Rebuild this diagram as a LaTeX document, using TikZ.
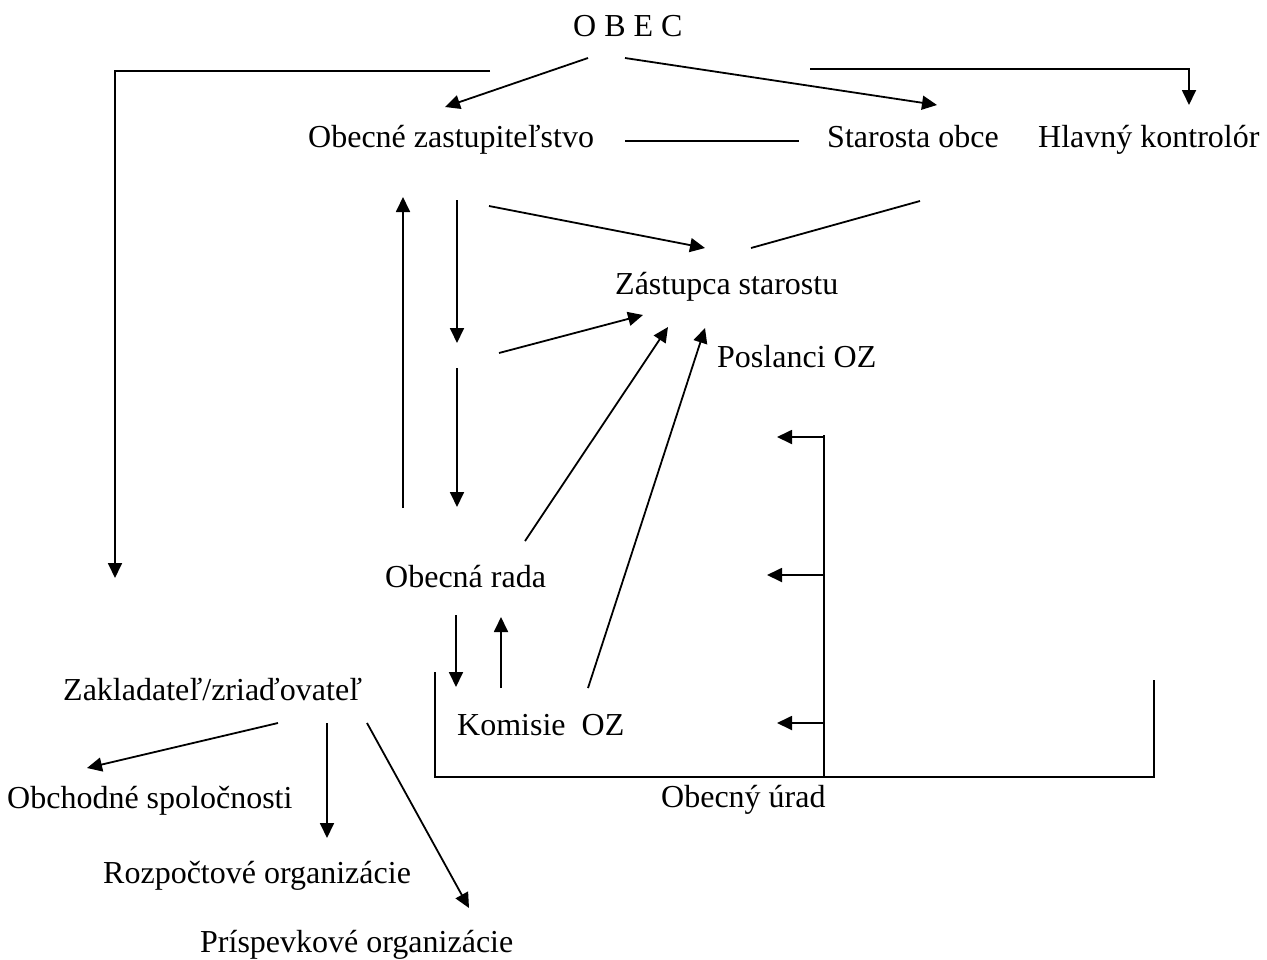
\documentclass[tikz,border=0pt]{standalone}
\usepackage{fontspec}
\setmainfont{Liberation Serif}
\usetikzlibrary{arrows.meta}
\begin{document}
\begin{tikzpicture}[x=1pt,y=-1pt,
  lbl/.style={anchor=base west, inner sep=0pt, font=\fontsize{32}{38}\selectfont},
  conn/.style={line width=1.8pt},
  arr/.style={line width=1.8pt, -{Triangle[length=15pt,width=14pt]}}]
\useasboundingbox[fill=white] (0,0) rectangle (1267,959);
% texts
\node[lbl] (obec) at (573,36) {O B E C};
\node[lbl] (oz) at (308,147) {Obecné zastupiteľstvo};
\node[lbl] (star) at (827,147) {Starosta obce};
\node[lbl] (hk) at (1038,147) {Hlavný kontrolór};
\node[lbl] (zast) at (615,294) {Zástupca starostu};
\node[lbl] (posl) at (717,367) {Poslanci OZ};
\node[lbl] (rada) at (385,587) {Obecná rada};
\node[lbl] (kom) at (457,735) {Komisie~\ OZ};
\node[lbl] (urad) at (661,807) {Obecný úrad};
\node[lbl] (zakl) at (63,700) {Zakladateľ/zriaďovateľ};
\node[lbl] (obch) at (7,808) {Obchodné spoločnosti};
\node[lbl] (rozp) at (103,883) {Rozpočtové organizácie};
\node[lbl] (prisp) at (200,952) {Príspevkové organizácie};
% coordinates
\coordinate (lb1) at (490,71);
\coordinate (lb2) at (115,71);
\coordinate (lb3) at (115,578);
\coordinate (o1) at (588,58);
\coordinate (o1e) at (445,107);
\coordinate (o2) at (625,58);
\coordinate (o2e) at (937,105);
\coordinate (rb1) at (810,69);
\coordinate (rb2) at (1189,69);
\coordinate (rb3) at (1189,105);
\coordinate (h1) at (625,141);
\coordinate (h2) at (799,141);
\coordinate (u1) at (403,508);
\coordinate (u2) at (403,197);
\coordinate (d1) at (457,200);
\coordinate (d2) at (457,343);
\coordinate (d3) at (457,368);
\coordinate (d4) at (457,507);
\coordinate (g1) at (489,206);
\coordinate (g2) at (705,248);
\coordinate (s1) at (920,201);
\coordinate (s2) at (751,248);
\coordinate (m1) at (499,353);
\coordinate (m2) at (643,315);
\coordinate (r1) at (525,541);
\coordinate (r2) at (668,327);
\coordinate (k1) at (588,688);
\coordinate (k2) at (705,328);
\coordinate (rd1) at (456,615);
\coordinate (rd2) at (456,687);
\coordinate (ru1) at (501,688);
\coordinate (ru2) at (501,617);
\coordinate (b1) at (435,672);
\coordinate (b2) at (435,777);
\coordinate (b3) at (1154,777);
\coordinate (b4) at (1154,680);
\coordinate (v1) at (824,435);
\coordinate (v2) at (824,778);
\coordinate (a1) at (824,437);
\coordinate (a1e) at (777,437);
\coordinate (a2) at (824,575);
\coordinate (a2e) at (767,575);
\coordinate (a3) at (824,723);
\coordinate (a3e) at (777,723);
\coordinate (z1) at (278,723);
\coordinate (z1e) at (87,768);
\coordinate (z2) at (327,723);
\coordinate (z2e) at (327,838);
\coordinate (z3) at (367,723);
\coordinate (z3e) at (469,908);
% connectors
\draw[arr] (lb1) -- (lb2) -- (lb3);
\draw[arr] (o1) -- (o1e);
\draw[arr] (o2) -- (o2e);
\draw[arr] (rb1) -- (rb2) -- (rb3);
\draw[conn] (h1) -- (h2);
\draw[arr] (u1) -- (u2);
\draw[arr] (d1) -- (d2);
\draw[arr] (d3) -- (d4);
\draw[arr] (g1) -- (g2);
\draw[conn] (s1) -- (s2);
\draw[arr] (m1) -- (m2);
\draw[arr] (r1) -- (r2);
\draw[arr] (k1) -- (k2);
\draw[arr] (rd1) -- (rd2);
\draw[arr] (ru1) -- (ru2);
\draw[conn] (b1) -- (b2) -- (b3) -- (b4);
\draw[conn] (v1) -- (v2);
\draw[arr] (a1) -- (a1e);
\draw[arr] (a2) -- (a2e);
\draw[arr] (a3) -- (a3e);
\draw[arr] (z1) -- (z1e);
\draw[arr] (z2) -- (z2e);
\draw[arr] (z3) -- (z3e);
\end{tikzpicture}
\end{document}
